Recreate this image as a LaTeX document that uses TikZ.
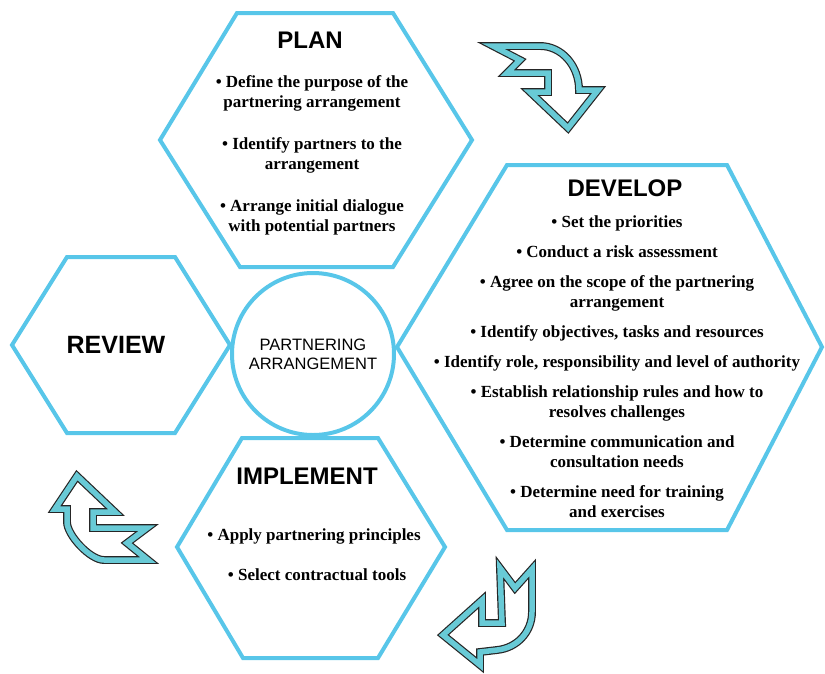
\documentclass[tikz,border=0pt]{standalone}
\usepackage{fontspec}
\setmainfont{Liberation Serif}
\setsansfont{Liberation Sans}
\usetikzlibrary{positioning}
\definecolor{hexblue}{RGB}{88,198,233}
\definecolor{arrowteal}{RGB}{104,202,214}

\begin{document}
\begin{tikzpicture}[x=1pt, y=-1pt, line join=miter,
    hexline/.style={draw=hexblue, line width=4pt},
    heading/.style={font=\sffamily\bfseries\fontsize{24}{28}\selectfont, inner sep=0pt},
    items/.style={font=\bfseries\fontsize{17}{20}\selectfont, align=center, inner sep=0pt},
    turn/.style={draw=black!85, line width=1.2pt, double=arrowteal, double distance=5.5pt}]
  \useasboundingbox (0,0) rectangle (825,673);

  % the four hexagons
  \draw[hexline] (237,13) -- (393,13) -- (472,140) -- (393,267) -- (240,267) -- (160,140) -- cycle;
  \draw[hexline] (507,165) -- (727,165) -- (822,347) -- (727,530) -- (507,530) -- (397,347) -- cycle;
  \draw[hexline] (242,438) -- (378,438) -- (445,547) -- (378,658) -- (243,658) -- (177,547) -- cycle;
  \draw[hexline] (67,257) -- (175,257) -- (230,345) -- (175,433) -- (67,433) -- (12,345) -- cycle;

  % centre
  \node[circle, draw=hexblue, line width=4pt, minimum size=162pt, inner sep=0pt, align=center,
        font=\sffamily\fontsize{16.5}{19}\selectfont] (hub) at (313,354) {PARTNERING\\ARRANGEMENT};

  % titles and items
  \node[heading] (plan) at (310,40) {PLAN};
  \node[items, below=27pt of plan, xshift=2pt] (planitems)
    {• Define the purpose of the\\ partnering arrangement\\[22pt]
     • Identify partners to the\\ arrangement\\[22pt]
     • Arrange initial dialogue\\ with potential partners};

  \node[heading] (develop) at (625,188) {DEVELOP};
  \node[items, below=19pt of develop, xshift=-8pt] (developitems)
    {• Set the priorities\\[10pt]
     • Conduct a risk assessment\\[10pt]
     • Agree on the scope of the partnering\\ arrangement\\[10pt]
     • Identify objectives, tasks and resources\\[10pt]
     • Identify role, responsibility and level of authority\\[10pt]
     • Establish relationship rules and how to\\ resolves challenges\\[10pt]
     • Determine communication and\\ consultation needs\\[10pt]
     • Determine need for training\\ and exercises};

  \node[heading] (implement) at (307,476) {IMPLEMENT};
  \node[items, below=44pt of implement, xshift=7pt] (implementitems)
    {• Apply partnering principles\\[20pt]
     \hspace*{6pt}• Select contractual tools};

  \node[heading, font=\sffamily\bfseries\fontsize{25}{28}\selectfont] (review) at (116,345) {REVIEW};

  % cycle arrows
  \draw[turn] (493,46) -- (540,46) .. controls (562,46) and (579,66) .. (579,90)
    -- (598,90) -- (568,128) -- (530,92) -- (548,92) -- (548,73) -- (507,73) -- (520,60) -- cycle;
  \draw[turn] (500,568) -- (515,588) -- (532,569) -- (532,612)
    .. controls (532,632) and (517,648) .. (497,650)
    -- (480,652) -- (480,665) -- (443,635) -- (482,600) -- (482,623) -- (502,623) -- cycle;
  \draw[turn] (77,476) -- (115,512) -- (93,512) -- (93,528) -- (147,528) -- (127,543) -- (148,560)
    -- (104,560) .. controls (90,560) and (67,535) .. (67,522) -- (67,509) -- (55,509) -- cycle;
\end{tikzpicture}
\end{document}
